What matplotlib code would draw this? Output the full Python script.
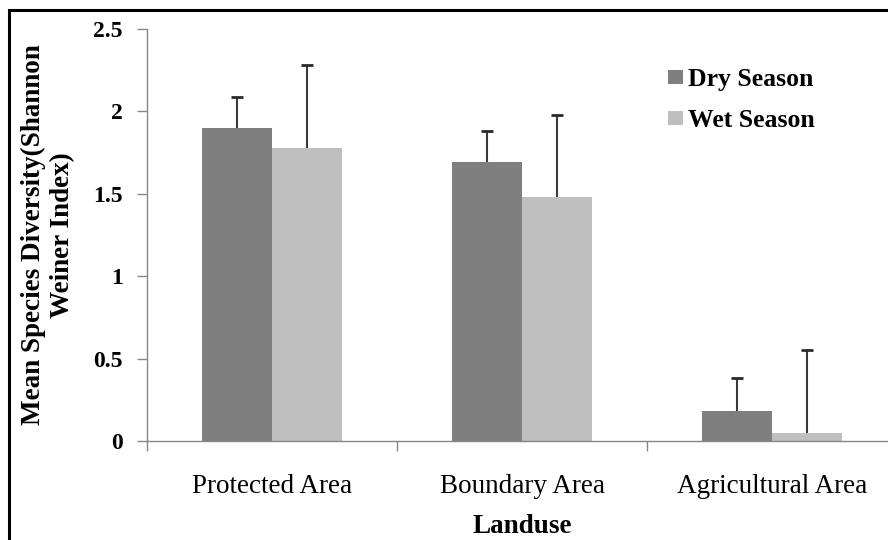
import matplotlib.pyplot as plt
import matplotlib.patches as mpatches
import numpy as np

plt.rcParams['font.family'] = ['Liberation Serif', 'DejaVu Serif']

categories = ['Protected Area', 'Boundary Area', 'Agricultural Area']
dry_mean = [1.90, 1.69, 0.18]
dry_err = [0.19, 0.19, 0.20]
wet_mean = [1.78, 1.48, 0.05]
wet_err = [0.50, 0.50, 0.50]
series_names = ['Dry Season', 'Wet Season']

fig = plt.figure(figsize=(8.88, 5.4), dpi=100)
ax = fig.add_axes([147/888, 1 - 441/540, 750/888, 412/540])

x = np.arange(len(categories)) + 0.5
w = 0.28
for off, mean, err, col, name in [(-w/2, dry_mean, dry_err, '#7f7f7f', series_names[0]),
                                  (w/2, wet_mean, wet_err, '#bfbfbf', series_names[1])]:
    ax.bar(x + off, mean, w, color=col, label=name, zorder=2)
    # one-sided error bars, cap only at the top
    ax.errorbar(x + off, mean, yerr=[np.zeros(3), err], fmt='none',
                ecolor='#3a3a3a', elinewidth=1.5, capsize=0, zorder=3)
    ax.plot(x + off, np.array(mean) + np.array(err), ls='none', marker='_',
            ms=8, mew=2, color='#2a2a2a', zorder=3)

ax.set_xlim(0, 3)
ax.set_ylim(0, 2.5)
ax.set_yticks([0, 0.5, 1, 1.5, 2, 2.5])
ax.set_yticklabels(['0', '0.5', '1', '1.5', '2', '2.5'], fontweight='bold', fontsize=17)
ax.set_xticks(x)
ax.set_xticklabels(categories, fontsize=19.5)
ax.set_xticks([0, 1, 2, 3], minor=True)
ax.tick_params(axis='x', which='major', length=0, pad=24)
ax.tick_params(axis='x', which='minor', length=7, width=1, color='#868686', direction='out')
ax.tick_params(axis='y', length=7, width=1, color='#868686', pad=10.5)

for s in ['top', 'right']:
    ax.spines[s].set_visible(False)
for s in ['left', 'bottom']:
    ax.spines[s].set_color('#868686')
    ax.spines[s].set_linewidth(1)

ax.set_ylabel('Mean Species Diversity(Shannon\nWeiner Index)', fontsize=19.5,
              fontweight='bold')
ax.yaxis.set_label_coords(-0.096, 0.5)
ax.set_xlabel('Landuse', fontsize=19.5, fontweight='bold')
ax.xaxis.set_label_coords(0.5, -0.178)

ax.legend(loc='upper left', bbox_to_anchor=(668/888, 1 - 68/540),
          bbox_transform=fig.transFigure, frameon=False, borderpad=0,
          borderaxespad=0, handlelength=0.58, handleheight=0.5,
          handletextpad=0.2, labelspacing=0.7,
          prop={'weight': 'bold', 'size': 18.5})

fig.patches.append(mpatches.Rectangle((8.5/888, -0.1), 1.2, 1 - 9.5/540 + 0.1,
                                      transform=fig.transFigure, fill=False,
                                      edgecolor='black', linewidth=2.2))

plt.savefig('out.png', dpi=100)
